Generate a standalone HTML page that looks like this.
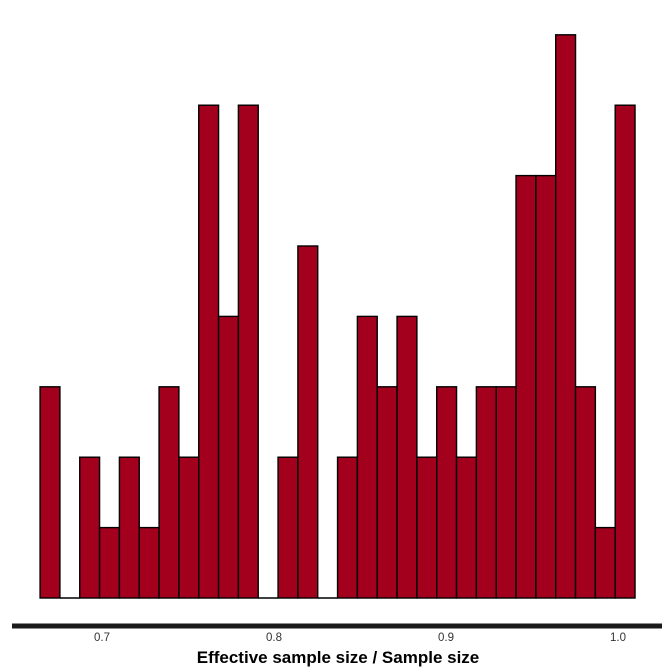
<!DOCTYPE html>
<html><head><meta charset="utf-8"><style>body{margin:0;background:#fff}svg{display:block}</style></head>
<body>
<svg id="chart" width="672" height="672" xmlns="http://www.w3.org/2000/svg">
<line x1="12" y1="626" x2="662" y2="626" stroke="#1a1a1a" stroke-width="5"/>
<g id="bars"></g><g id="ticks"></g>
<text x="338" y="663" text-anchor="middle" font-family="Liberation Sans, sans-serif" font-weight="bold" font-size="17" fill="#000">Effective sample size / Sample size</text>
</svg>
<script>
const binStart = 0.664;
const binWidth = 0.01153;
const counts = [3,0,2,1,2,1,3,2,7,4,7,0,2,5,0,2,4,3,4,2,3,2,3,3,6,6,8,3,1,7];
const tickValues = [0.7,0.8,0.9,1.0];
const tickLabels = ["0.7","0.8","0.9","1.0"];
const xs = v => 102 + (v - 0.7) * 1720;
const ys = c => 598 - c * 70.4;
const NS = "http://www.w3.org/2000/svg";
const bg = document.getElementById('bars');
counts.forEach((c, i) => {
  const x0 = xs(binStart + i * binWidth), x1 = xs(binStart + (i + 1) * binWidth);
  if (c === 0) {
    const l = document.createElementNS(NS, 'line');
    l.setAttribute('x1', x0); l.setAttribute('x2', x1);
    l.setAttribute('y1', 598); l.setAttribute('y2', 598);
    l.setAttribute('stroke', '#000'); l.setAttribute('stroke-width', '1.4');
    
    
    bg.appendChild(l);
    return;
  }
  const r = document.createElementNS(NS, 'rect');
  r.setAttribute('x', x0); r.setAttribute('width', x1 - x0);
  r.setAttribute('y', ys(c)); r.setAttribute('height', 598 - ys(c));
  r.setAttribute('fill', '#a2001d'); r.setAttribute('stroke', '#000'); r.setAttribute('stroke-width', '1.4');
  
  
  bg.appendChild(r);
});
const tg = document.getElementById('ticks');
tickValues.forEach((v, i) => {
  const t = document.createElementNS(NS, 'text');
  t.setAttribute('x', xs(v)); t.setAttribute('y', 641);
  t.setAttribute('text-anchor', 'middle');
  t.setAttribute('font-family', 'Liberation Sans, sans-serif');
  t.setAttribute('font-size', '11.5'); t.setAttribute('fill', '#333');
  t.textContent = tickLabels[i];
  
  
  tg.appendChild(t);
});
</script>
</body></html>
